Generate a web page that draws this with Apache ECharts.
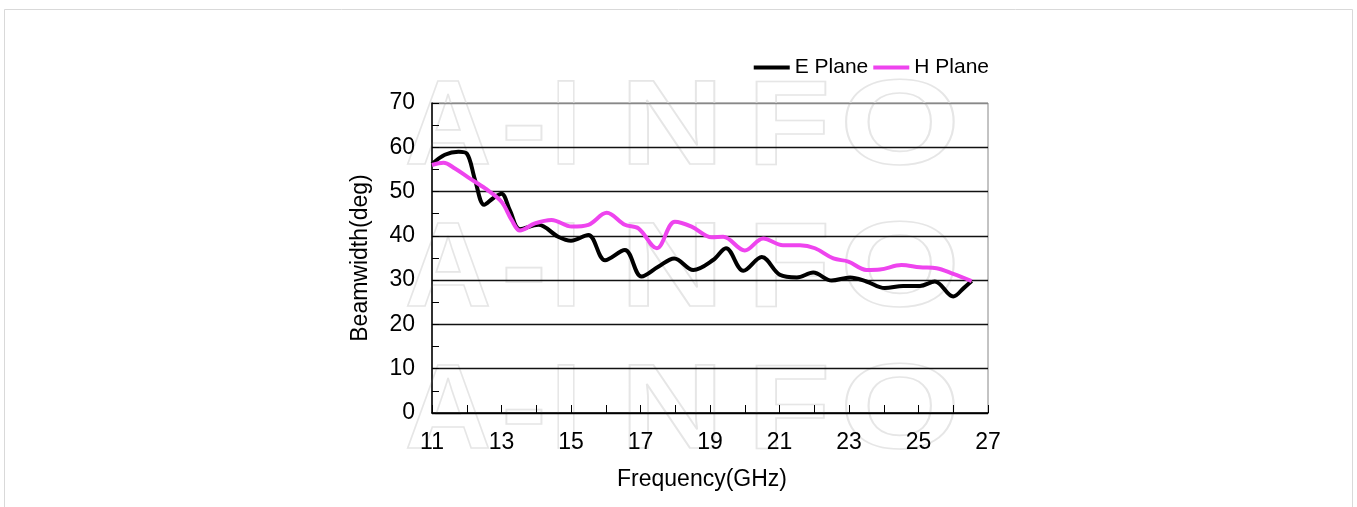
<!DOCTYPE html>
<html><head><meta charset="utf-8">
<script src="https://cdn.jsdelivr.net/npm/echarts@6/dist/echarts.min.js"></script>
<style>html,body{margin:0;padding:0;background:#fff}#c{width:1357px;height:507px}</style>
</head><body><div id="c"></div>
<script>
const xTicks = [11, 13, 15, 17, 19, 21, 23, 25, 27];
const yTicks = [0, 10, 20, 30, 40, 50, 60, 70];
const eFreq = [11.0, 11.37, 11.76, 12.0, 12.24, 12.5, 12.76, 13.0, 13.24, 13.53, 14.06, 14.63, 15.0, 15.5, 15.98, 16.55, 17.03, 17.51, 17.97, 18.52, 19.1, 19.46, 19.96, 20.49, 21.01, 21.5, 21.97, 22.5, 23.03, 23.5, 24.03, 24.56, 25.04, 25.47, 26.0, 26.3, 26.53];
const eVals = [56.2, 58.3, 59.0, 58.6, 52.6, 47.0, 48.5, 49.5, 45.8, 41.5, 42.5, 39.8, 38.9, 40.2, 34.5, 36.8, 30.8, 33.0, 34.9, 32.3, 34.6, 37.2, 32.1, 35.2, 31.2, 30.6, 31.7, 29.9, 30.6, 29.7, 28.2, 28.7, 28.7, 29.7, 26.3, 28.2, 29.8];
const hFreq = [11.0, 11.33, 11.66, 12.04, 12.53, 13.0, 13.29, 13.53, 13.96, 14.44, 15.02, 15.5, 16.03, 16.55, 16.94, 17.47, 17.99, 18.47, 19.05, 19.38, 20.0, 20.53, 21.1, 21.59, 22.02, 22.55, 22.98, 23.5, 23.89, 24.51, 25.04, 25.52, 26.0, 26.53];
const hVals = [56.0, 56.5, 55.2, 53.2, 50.7, 47.7, 43.6, 41.2, 42.8, 43.6, 42.1, 42.5, 45.2, 42.5, 41.7, 37.2, 43.2, 42.1, 39.7, 39.8, 36.7, 39.4, 37.9, 37.9, 37.2, 34.9, 34.2, 32.3, 32.4, 33.4, 32.9, 32.7, 31.4, 29.8];
const seriesNames = ['E Plane', 'H Plane'];
const seriesColors = ['#000000', '#ee44ee'];

const FONT = 'Liberation Sans, Arial, sans-serif';
const wm = [];
const letters = [['A', 448, 1.0], ['-', 524, 1.15], ['I', 566, 0.9], ['N', 672, 1.2], ['F', 789, 1.13], ['O', 900, 1.29]];
[131, 273, 415].forEach(cy => {
  letters.forEach(([ch, cx, s]) => {
    wm.push({type: 'text', z: 0, silent: true, x: cx, y: cy, scaleX: s,
      style: {text: ch, x: 0, y: 0, align: 'center', verticalAlign: 'middle',
      font: 'bold 120px ' + FONT, fill: 'rgba(0,0,0,0)', stroke: '#e6e6e6', lineWidth: 1.6}});
  });
});
wm.push({type: 'rect', z: 0, silent: true, shape: {x: 4.5, y: 9.5, width: 1348, height: 520},
  style: {fill: 'none', stroke: '#d9d9d9', lineWidth: 1}});

const chart = echarts.init(document.getElementById('c'));
chart.setOption({
  animation: false,
  backgroundColor: '#fff',
  graphic: wm,
  legend: {
    right: 363, top: 52, itemWidth: 36, itemHeight: 4, itemGap: 5,
    icon: 'rect',
    textStyle: {fontFamily: FONT, fontSize: 21, color: '#000'},
    data: seriesNames
  },
  grid: {left: 432, right: 369, top: 103, bottom: 94, show: true, borderColor: '#888', borderWidth: 1},
  xAxis: {
    type: 'value', min: xTicks[0], max: xTicks[xTicks.length - 1], interval: 2,
    name: 'Frequency(GHz)', nameLocation: 'middle', nameGap: 55,
    nameTextStyle: {fontFamily: FONT, fontSize: 23, color: '#000', padding: [0, 16, 0, 0]},
    axisLine: {lineStyle: {color: '#000', width: 1.5}},
    axisTick: {inside: true, length: 8, lineStyle: {color: '#000'}},
    minorTick: {show: true, splitNumber: 2, length: 8, lineStyle: {color: '#000'}},
    axisLabel: {fontFamily: FONT, fontSize: 23, color: '#000', margin: 18},
    splitLine: {show: false}
  },
  yAxis: {
    type: 'value', min: yTicks[0], max: yTicks[yTicks.length - 1], interval: 10,
    name: 'Beamwidth(deg)', nameLocation: 'middle', nameGap: 60,
    nameTextStyle: {fontFamily: FONT, fontSize: 23, color: '#000'},
    axisLine: {show: true, lineStyle: {color: '#000', width: 1.5}},
    axisTick: {inside: true, length: 7, lineStyle: {color: '#000'}},
    minorTick: {show: true, splitNumber: 2, length: 7, lineStyle: {color: '#000'}},
    axisLabel: {fontFamily: FONT, fontSize: 23, color: '#000', margin: 17},
    splitLine: {show: true, lineStyle: {color: ['#000', '#111', '#111', '#111', '#111', '#111', '#111', '#888'], width: 1.3}}
  },
  series: [
    {name: seriesNames[0], type: 'line', smooth: 0.35, showSymbol: false, z: 3,
     color: seriesColors[0], lineStyle: {width: 4, color: seriesColors[0]},
     data: eFreq.map((f, i) => [f, eVals[i]])},
    {name: seriesNames[1], type: 'line', smooth: 0.35, showSymbol: false, z: 4,
     color: seriesColors[1], lineStyle: {width: 4, color: seriesColors[1]},
     data: hFreq.map((f, i) => [f, hVals[i]])}
  ]
});
</script></body></html>
